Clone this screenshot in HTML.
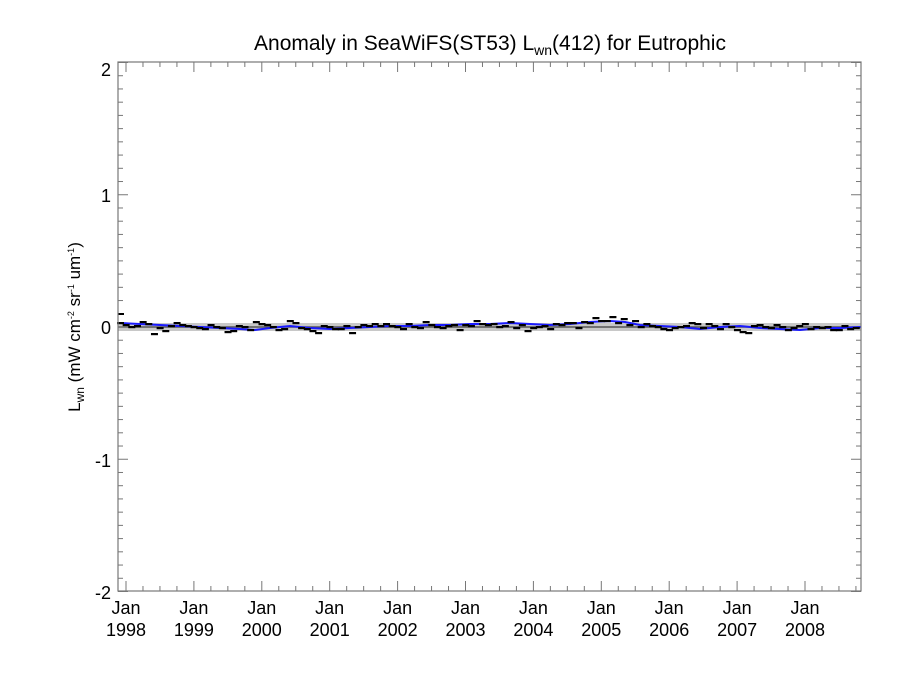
<!DOCTYPE html>
<html><head><meta charset="utf-8"><style>
html,body{margin:0;padding:0;background:#fff;}
svg{display:block;font-family:"Liberation Sans",sans-serif;}
</style></head><body>
<svg id="s" width="900" height="675" viewBox="0 0 900 675" xmlns="http://www.w3.org/2000/svg">
<rect width="900" height="675" fill="#fff"/>
<text x="490" y="50" font-size="21" text-anchor="middle">Anomaly in SeaWiFS(ST53) L<tspan font-size="14" dy="5">wn</tspan><tspan dy="-5">(412) for Eutrophic</tspan></text>
<g font-size="18" text-anchor="end">
<text x="111" y="76">2</text>
<text x="111" y="202">1</text>
<text x="111" y="334">0</text>
<text x="111" y="467">-1</text>
<text x="111" y="599">-2</text>
</g>
<text transform="translate(80,327) rotate(-90)" font-size="17" text-anchor="middle">L<tspan font-size="12" dy="4">wn</tspan><tspan dy="-4"> (mW cm</tspan><tspan font-size="9" dy="-6">-2</tspan><tspan dy="6"> sr</tspan><tspan font-size="9" dy="-6">-1</tspan><tspan dy="6"> um</tspan><tspan font-size="9" dy="-6">-1</tspan><tspan dy="6">)</tspan></text>
<g id="xl" font-size="18" text-anchor="middle"></g>
<rect x="118" y="323" width="743" height="8" fill="#c8c8c8"/>
<line x1="118" y1="327" x2="861" y2="327" stroke="#555" stroke-width="1.5"/>
<g id="ax" stroke="#777" stroke-width="1"></g>
<polyline id="blue" fill="none" stroke="#1a1aff" stroke-width="2"/>
<g id="d" fill="#000"></g>
<rect x="118" y="62" width="743" height="529" fill="none" stroke="#777" stroke-width="1.2"/>
</svg>
<script>
var ns="http://www.w3.org/2000/svg";
function el(p,t,a){var e=document.createElementNS(ns,t);for(var k in a)e.setAttribute(k,a[k]);document.getElementById(p).appendChild(e);return e;}
var L=118,R=861,T=62,B=591,Y0=327,U=132.25;
for(var i=-20;i<=20;i++){var y=Y0-i*U/10;var len=(i%10==0)?10:5;
el('ax','line',{x1:L,y1:y,x2:L+len,y2:y});el('ax','line',{x1:R,y1:y,x2:R-len,y2:y});}
var yr=67.9,x0=126;
for(var q=-1;q<45;q++){var x=x0+q*yr/4;if(x<L||x>R)continue;var len=(q%4==0)?10:5;
el('ax','line',{x1:x,y1:B,x2:x,y2:B-len});el('ax','line',{x1:x,y1:T,x2:x,y2:T+len});}
for(var k=0;k<11;k++){var x=x0+k*yr;
var t=el('xl','text',{x:x,y:614});t.textContent='Jan';
var t2=el('xl','text',{x:x,y:636});t2.textContent=String(1998+k);}
var blue=[[120,-4],[140,-3],[160,-2],[180,-1],[200,0],[220,1],[240,2],[255,3],[270,1],[290,-1],[310,1],[330,2],[350,1],[370,0],[390,-1],[410,-1],[430,-2],[450,-2],[470,-3],[490,-3],[510,-4],[530,-3],[550,-2],[570,-3],[590,-5],[610,-6],[625,-5],[640,-2],[660,-1],[680,0],[700,2],[720,0],[740,-1],[760,1],[780,2],[800,3],[820,1],[840,1],[861,0]];
document.getElementById('blue').setAttribute('points',blue.map(function(p){return p[0]+','+(Y0+p[1])}).join(' '));
var dy=[-4,-2,0,-1,-5,-3,7,1,4,-1,-4,-2,-1,0,1,2,-2,0,1,5,4,-1,0,3,-5,-3,-2,0,3,2,-6,-4,1,2,4,6,-1,0,2,2,-1,6,0,-2,-1,-3,-1,-3,-1,0,2,-3,0,1,-5,-2,0,1,-1,-2,3,-2,-1,-6,-3,-2,-3,0,-1,-5,1,-2,4,1,0,-1,2,-3,-2,-4,-4,1,-5,-4,-9,-6,-6,-10,-4,-8,-2,-6,0,-3,-1,0,2,3,1,0,-1,-4,-3,1,-3,-1,2,-3,0,3,5,6,-1,-2,0,1,-2,0,3,1,-1,-3,2,0,1,0,3,3,-1,2,1,2,1,1,0,1];
for(var m=0;m<dy.length;m++){var x=120+m*5.66;if(x>858)break;
el('d','rect',{x:x-3,y:Y0+dy[m]-1,width:7,height:2.2});}
el('d','rect',{x:118,y:313,width:6,height:2});
</script>
</body></html>
